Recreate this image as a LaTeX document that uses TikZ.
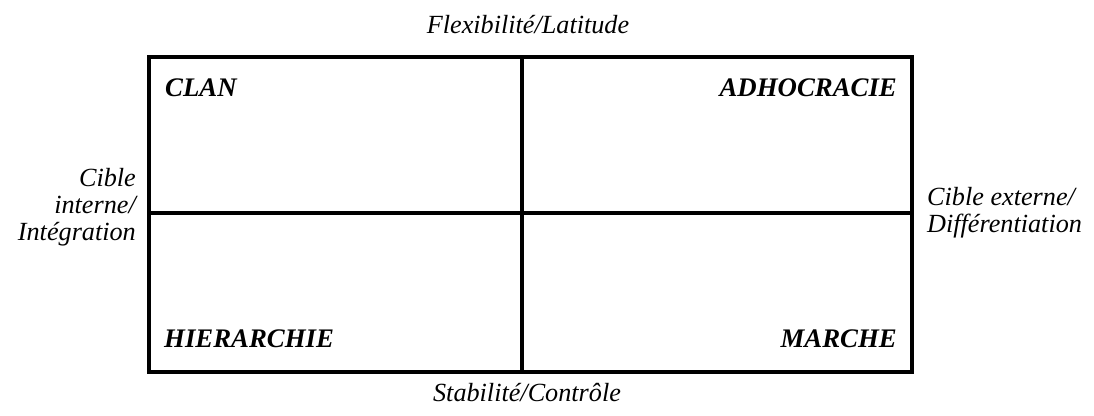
\documentclass[tikz,border=0pt]{standalone}
\usepackage{fontspec}
\setmainfont{Liberation Serif}
\begin{document}
\begin{tikzpicture}[x=1pt,y=-1pt,
  lbl/.style={inner sep=0pt,font=\fontsize{26.2}{26.8}\selectfont\itshape},
  quad/.style={inner sep=0pt,font=\fontsize{26.8}{28}\selectfont\bfseries\itshape},
  frame/.style={line width=3.2pt}]
\useasboundingbox (0,0) rectangle (1094,415);
\coordinate (nw) at (149,57);
\coordinate (se) at (912,372);
\coordinate (tm) at (522,57);
\coordinate (bm) at (522,372);
\coordinate (lm) at (149,213);
\coordinate (rm) at (912,213);
\draw[frame] (nw) rectangle (se);
\draw[frame] (tm) -- (bm);
\draw[frame] (lm) -- (rm);
\node[lbl,anchor=base] (top) at (528,33) {Flexibilité/Latitude};
\node[lbl,anchor=base] (bot) at (527,401) {Stabilité/Contrôle};
\node[quad,anchor=base west] (clan) at (165,96) {CLAN};
\node[quad,anchor=base east] (adho) at (897,96) {ADHOCRACIE};
\node[quad,anchor=base west] (hier) at (164,347) {HIERARCHIE};
\node[quad,anchor=base east] (marche) at (897,347) {MARCHE};
\node[lbl,anchor=base east,align=right] (left) at (136,240) {Cible\\interne/\\Intégration};
\node[lbl,anchor=base west,align=left] (right) at (927,232) {Cible externe/\\Différentiation};
\end{tikzpicture}
\end{document}
